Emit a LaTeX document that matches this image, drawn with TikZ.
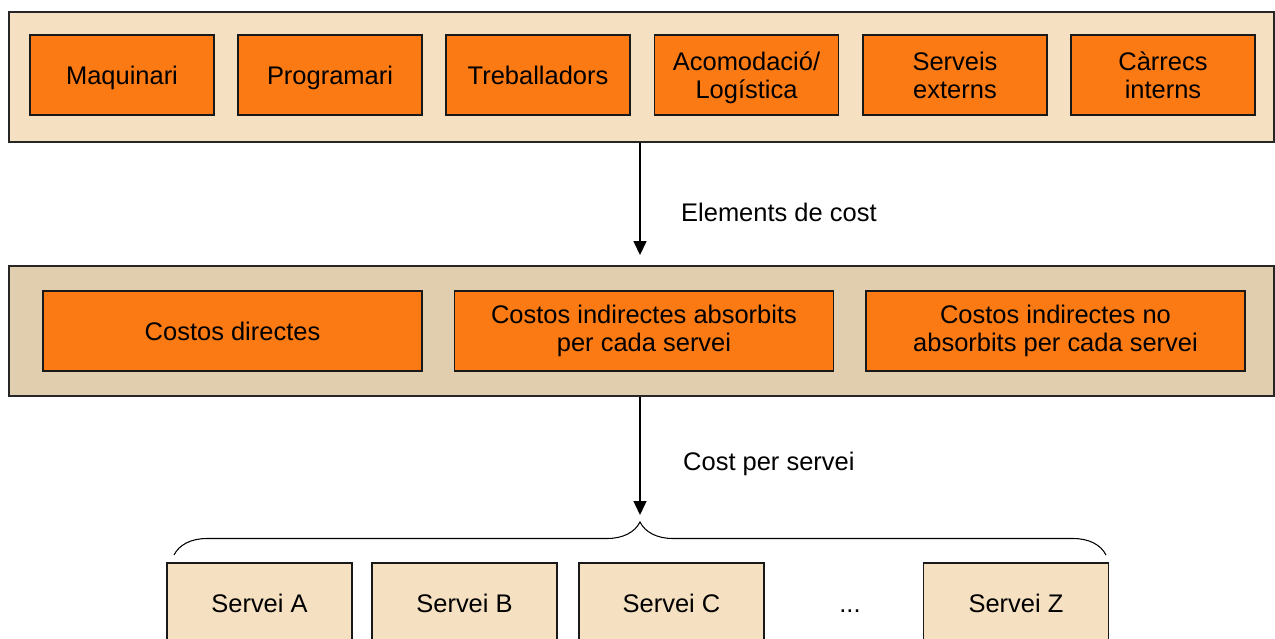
\documentclass[tikz,border=0pt]{standalone}
\usepackage{fontspec}
\setmainfont{Liberation Sans}
\usetikzlibrary{arrows.meta,decorations.pathreplacing}

\definecolor{costorange}{RGB}{252,122,20}
\definecolor{lightwheat}{RGB}{245,225,193}
\definecolor{darkwheat}{RGB}{224,206,174}

\tikzset{
  panel/.style={draw=black!85, line width=1.1pt, minimum width=25.3cm, minimum height=2.6cm},
  costbox/.style={draw=black!90, fill=costorange, line width=0.8pt, minimum width=3.68cm,
    minimum height=1.6cm, align=center, inner sep=1pt},
  oneline/.style={text height=10.6pt, text depth=0pt},
  widebox/.style={costbox, minimum width=7.58cm},
  servbox/.style={costbox, oneline, fill=lightwheat, minimum width=3.7cm},
  flow/.style={-{Triangle[length=0.28cm,width=0.26cm]}, line width=0.8pt},
}

\begin{document}
\begin{tikzpicture}[x=0.02cm, y=-0.02cm, font=\fontsize{14.5}{16}\selectfont]
            \useasboundingbox (0,0) rectangle (1275,639);
            % the two panels
            \node[panel, fill=lightwheat] (top) at (641.5,77) {};
            \node[panel, fill=darkwheat] (mid) at (641.5,331) {};
            % cost sources
            \node[costbox, oneline] (A1) at (122,75) {Maquinari};
            \node[costbox, oneline] (A2) at (330,75) {Programari};
            \node[costbox, oneline] (A3) at (538,75) {Treballadors};
            \node[costbox] (A4) at (746.5,75) {Acomodaci\smash{ó}/\\Lo\smash{g}ística};
            \node[costbox] (A5) at (955,75) {Serveis\\externs};
            \node[costbox] (A6) at (1163,75) {Càrrecs\\interns};
            % kinds of cost
            \node[widebox, oneline] (B1) at (232.5,331) {Costos directes};
            \node[widebox] (B2) at (644,331) {Costos indirectes absorbits\\per cada servei};
            \node[widebox] (B3) at (1055.5,331) {Costos indirectes no\\absorbits per cada servei};
            % services
            \node[servbox] (C1) at (259.5,603) {Servei A};
            \node[servbox] (C2) at (464.5,603) {Servei B};
            \node[servbox] (C3) at (671.5,603) {Servei C};
            \node[oneline] (dots) at (850,603) {...};
            \node[servbox] (C4) at (1016,603) {Servei Z};
            % brace over the services
            \coordinate (bl) at (174,555);
            \coordinate (br) at (1106,555);
            \coordinate (tip) at (640,522);
            \draw[line width=0.6pt, decorate, decoration={brace, amplitude=0.66cm}] (bl) -- (br);
            % arrows
            \draw[flow] (top.south -| tip) -- (mid.north -| tip) [shorten >=0.2cm];
            \draw[flow, shorten >=0.14cm] (mid.south -| tip) -- (tip);
            \node[right] (L1) at (675,212) {Elements de cost};
            \node[right] (L2) at (677,464) {Cost per servei};
        \end{tikzpicture}
\end{document}
